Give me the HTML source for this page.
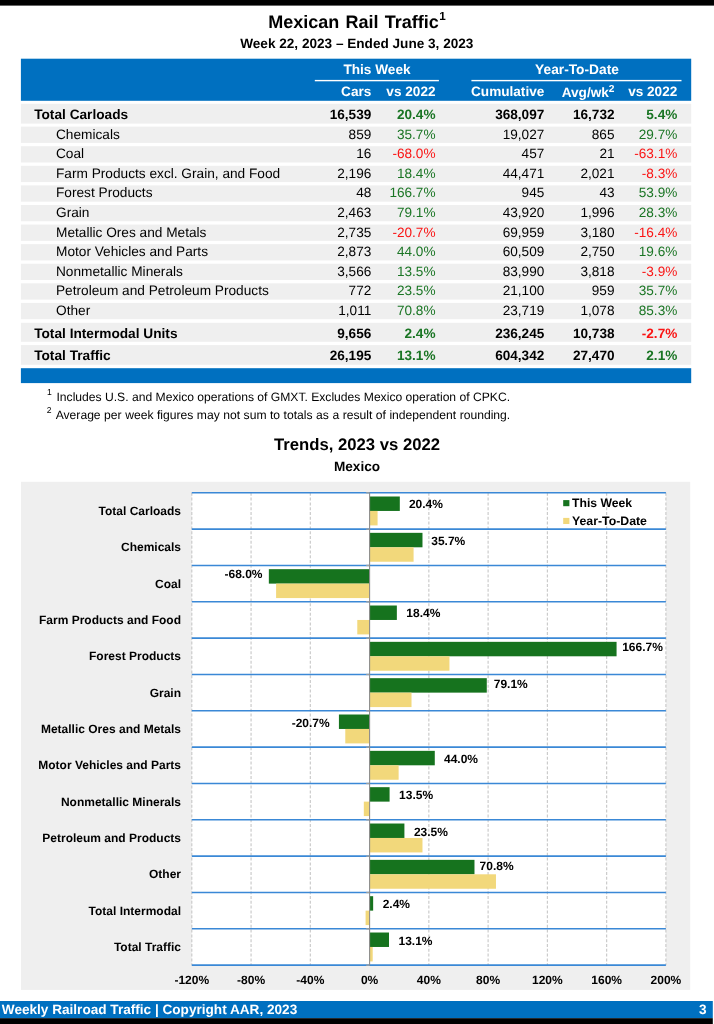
<!DOCTYPE html>
<html lang="en"><head><meta charset="utf-8"><title>Mexican Rail Traffic</title>
<style>html,body{margin:0;padding:0;background:#fff}svg{display:block}text{text-rendering:geometricPrecision;font-family:"Liberation Sans",Arial,sans-serif;fill:#000}.b{font-weight:bold}.w{fill:#fff}.g{fill:#1a7524}.r{fill:#fa1414}</style></head><body>
<svg width="714" height="1024" viewBox="0 0 714 1024">
<rect x="0" y="0" width="714" height="1024" fill="#fff"/>
<rect x="0" y="0" width="714" height="5.6" fill="#000"/>
<text class="b" x="268.2" y="28.3" font-size="18" word-spacing="1.2">Mexican Rail Traffic<tspan dy="-8.6" dx="0.5" font-size="11.7">1</tspan></text>
<text class="b" x="356.8" y="47.6" font-size="13.6" text-anchor="middle">Week 22, 2023 – Ended June 3, 2023</text>
<rect x="20.9" y="58.7" width="670.3000000000001" height="42.1" fill="#0070c0"/>
<rect x="314.8" y="79.9" width="124.1" height="1.4" fill="#fff"/>
<rect x="471.4" y="79.9" width="210.1" height="1.4" fill="#fff"/>
<text class="b w" x="377.0" y="74.1" font-size="13.65" text-anchor="middle">This Week</text>
<text class="b w" x="577.0" y="74.3" font-size="13.75" text-anchor="middle">Year-To-Date</text>
<text class="b w" x="371.3" y="96.1" font-size="13.6" text-anchor="end">Cars</text>
<text class="b w" x="435.5" y="96.1" font-size="13.6" text-anchor="end">vs 2022</text>
<text class="b w" x="544.3" y="96.1" font-size="13.6" text-anchor="end">Cumulative</text>
<text class="b w" x="677.3" y="96.1" font-size="13.6" text-anchor="end">vs 2022</text>
<text class="b w" x="614.5" y="97.3" font-size="13.6" text-anchor="end">Avg/wk<tspan dy="-5.6" font-size="10.2">2</tspan></text>
<rect x="20.9" y="103.80" width="670.3000000000001" height="19.8" fill="#efefef"/>
<text class="b" x="34.2" y="118.60" font-size="13.68">Total Carloads</text>
<text class="b" x="371.3" y="118.60" font-size="13.6" text-anchor="end">16,539</text>
<text class="b g" x="435.5" y="118.60" font-size="13.6" text-anchor="end">20.4%</text>
<text class="b" x="544.3" y="118.60" font-size="13.6" text-anchor="end">368,097</text>
<text class="b" x="614.5" y="118.60" font-size="13.6" text-anchor="end">16,732</text>
<text class="b g" x="677.3" y="118.60" font-size="13.6" text-anchor="end">5.4%</text>
<rect x="20.9" y="126.60" width="670.3000000000001" height="16.3" fill="#efefef"/>
<text class="" x="56.0" y="138.60" font-size="13.68">Chemicals</text>
<text class="" x="371.3" y="138.60" font-size="13.6" text-anchor="end">859</text>
<text class="g" x="435.5" y="138.60" font-size="13.6" text-anchor="end">35.7%</text>
<text class="" x="544.3" y="138.60" font-size="13.6" text-anchor="end">19,027</text>
<text class="" x="614.5" y="138.60" font-size="13.6" text-anchor="end">865</text>
<text class="g" x="677.3" y="138.60" font-size="13.6" text-anchor="end">29.7%</text>
<rect x="20.9" y="146.19" width="670.3000000000001" height="16.3" fill="#efefef"/>
<text class="" x="56.0" y="158.19" font-size="13.68">Coal</text>
<text class="" x="371.3" y="158.19" font-size="13.6" text-anchor="end">16</text>
<text class="r" x="435.5" y="158.19" font-size="13.6" text-anchor="end">-68.0%</text>
<text class="" x="544.3" y="158.19" font-size="13.6" text-anchor="end">457</text>
<text class="" x="614.5" y="158.19" font-size="13.6" text-anchor="end">21</text>
<text class="r" x="677.3" y="158.19" font-size="13.6" text-anchor="end">-63.1%</text>
<rect x="20.9" y="165.78" width="670.3000000000001" height="16.3" fill="#efefef"/>
<text class="" x="56.0" y="177.78" font-size="13.68">Farm Products excl. Grain, and Food</text>
<text class="" x="371.3" y="177.78" font-size="13.6" text-anchor="end">2,196</text>
<text class="g" x="435.5" y="177.78" font-size="13.6" text-anchor="end">18.4%</text>
<text class="" x="544.3" y="177.78" font-size="13.6" text-anchor="end">44,471</text>
<text class="" x="614.5" y="177.78" font-size="13.6" text-anchor="end">2,021</text>
<text class="r" x="677.3" y="177.78" font-size="13.6" text-anchor="end">-8.3%</text>
<rect x="20.9" y="185.37" width="670.3000000000001" height="16.3" fill="#efefef"/>
<text class="" x="56.0" y="197.37" font-size="13.68">Forest Products</text>
<text class="" x="371.3" y="197.37" font-size="13.6" text-anchor="end">48</text>
<text class="g" x="435.5" y="197.37" font-size="13.6" text-anchor="end">166.7%</text>
<text class="" x="544.3" y="197.37" font-size="13.6" text-anchor="end">945</text>
<text class="" x="614.5" y="197.37" font-size="13.6" text-anchor="end">43</text>
<text class="g" x="677.3" y="197.37" font-size="13.6" text-anchor="end">53.9%</text>
<rect x="20.9" y="204.96" width="670.3000000000001" height="16.3" fill="#efefef"/>
<text class="" x="56.0" y="216.96" font-size="13.68">Grain</text>
<text class="" x="371.3" y="216.96" font-size="13.6" text-anchor="end">2,463</text>
<text class="g" x="435.5" y="216.96" font-size="13.6" text-anchor="end">79.1%</text>
<text class="" x="544.3" y="216.96" font-size="13.6" text-anchor="end">43,920</text>
<text class="" x="614.5" y="216.96" font-size="13.6" text-anchor="end">1,996</text>
<text class="g" x="677.3" y="216.96" font-size="13.6" text-anchor="end">28.3%</text>
<rect x="20.9" y="224.55" width="670.3000000000001" height="16.3" fill="#efefef"/>
<text class="" x="56.0" y="236.55" font-size="13.68">Metallic Ores and Metals</text>
<text class="" x="371.3" y="236.55" font-size="13.6" text-anchor="end">2,735</text>
<text class="r" x="435.5" y="236.55" font-size="13.6" text-anchor="end">-20.7%</text>
<text class="" x="544.3" y="236.55" font-size="13.6" text-anchor="end">69,959</text>
<text class="" x="614.5" y="236.55" font-size="13.6" text-anchor="end">3,180</text>
<text class="r" x="677.3" y="236.55" font-size="13.6" text-anchor="end">-16.4%</text>
<rect x="20.9" y="244.14" width="670.3000000000001" height="16.3" fill="#efefef"/>
<text class="" x="56.0" y="256.14" font-size="13.68">Motor Vehicles and Parts</text>
<text class="" x="371.3" y="256.14" font-size="13.6" text-anchor="end">2,873</text>
<text class="g" x="435.5" y="256.14" font-size="13.6" text-anchor="end">44.0%</text>
<text class="" x="544.3" y="256.14" font-size="13.6" text-anchor="end">60,509</text>
<text class="" x="614.5" y="256.14" font-size="13.6" text-anchor="end">2,750</text>
<text class="g" x="677.3" y="256.14" font-size="13.6" text-anchor="end">19.6%</text>
<rect x="20.9" y="263.73" width="670.3000000000001" height="16.3" fill="#efefef"/>
<text class="" x="56.0" y="275.73" font-size="13.68">Nonmetallic Minerals</text>
<text class="" x="371.3" y="275.73" font-size="13.6" text-anchor="end">3,566</text>
<text class="g" x="435.5" y="275.73" font-size="13.6" text-anchor="end">13.5%</text>
<text class="" x="544.3" y="275.73" font-size="13.6" text-anchor="end">83,990</text>
<text class="" x="614.5" y="275.73" font-size="13.6" text-anchor="end">3,818</text>
<text class="r" x="677.3" y="275.73" font-size="13.6" text-anchor="end">-3.9%</text>
<rect x="20.9" y="283.32" width="670.3000000000001" height="16.3" fill="#efefef"/>
<text class="" x="56.0" y="295.32" font-size="13.68">Petroleum and Petroleum Products</text>
<text class="" x="371.3" y="295.32" font-size="13.6" text-anchor="end">772</text>
<text class="g" x="435.5" y="295.32" font-size="13.6" text-anchor="end">23.5%</text>
<text class="" x="544.3" y="295.32" font-size="13.6" text-anchor="end">21,100</text>
<text class="" x="614.5" y="295.32" font-size="13.6" text-anchor="end">959</text>
<text class="g" x="677.3" y="295.32" font-size="13.6" text-anchor="end">35.7%</text>
<rect x="20.9" y="302.91" width="670.3000000000001" height="16.3" fill="#efefef"/>
<text class="" x="56.0" y="314.91" font-size="13.68">Other</text>
<text class="" x="371.3" y="314.91" font-size="13.6" text-anchor="end">1,011</text>
<text class="g" x="435.5" y="314.91" font-size="13.6" text-anchor="end">70.8%</text>
<text class="" x="544.3" y="314.91" font-size="13.6" text-anchor="end">23,719</text>
<text class="" x="614.5" y="314.91" font-size="13.6" text-anchor="end">1,078</text>
<text class="g" x="677.3" y="314.91" font-size="13.6" text-anchor="end">85.3%</text>
<rect x="20.9" y="322.80" width="670.3000000000001" height="19.0" fill="#efefef"/>
<text class="b" x="34.2" y="337.60" font-size="13.68">Total Intermodal Units</text>
<text class="b" x="371.3" y="337.60" font-size="13.6" text-anchor="end">9,656</text>
<text class="b g" x="435.5" y="337.60" font-size="13.6" text-anchor="end">2.4%</text>
<text class="b" x="544.3" y="337.60" font-size="13.6" text-anchor="end">236,245</text>
<text class="b" x="614.5" y="337.60" font-size="13.6" text-anchor="end">10,738</text>
<text class="b r" x="677.3" y="337.60" font-size="13.6" text-anchor="end">-2.7%</text>
<rect x="20.9" y="345.10" width="670.3000000000001" height="19.7" fill="#efefef"/>
<text class="b" x="34.2" y="359.70" font-size="13.68">Total Traffic</text>
<text class="b" x="371.3" y="359.70" font-size="13.6" text-anchor="end">26,195</text>
<text class="b g" x="435.5" y="359.70" font-size="13.6" text-anchor="end">13.1%</text>
<text class="b" x="544.3" y="359.70" font-size="13.6" text-anchor="end">604,342</text>
<text class="b" x="614.5" y="359.70" font-size="13.6" text-anchor="end">27,470</text>
<text class="b g" x="677.3" y="359.70" font-size="13.6" text-anchor="end">2.1%</text>
<rect x="20.9" y="368.2" width="670.3000000000001" height="14.9" fill="#0070c0"/>
<text x="46.9" y="400.5" font-size="12.13"><tspan font-size="8.6" dy="-5.8">1</tspan><tspan dy="5.8" dx="4.8">Includes U.S. and Mexico operations of GMXT. Excludes Mexico operation of CPKC.</tspan></text>
<text x="46.7" y="418.7" font-size="12.13" word-spacing="0.13"><tspan font-size="8.6" dy="-5.4">2</tspan><tspan dy="5.4" dx="4.2">Average per week figures may not sum to totals as a result of independent rounding.</tspan></text>
<text class="b" x="357" y="449.6" font-size="16.7" text-anchor="middle">Trends, 2023 vs 2022</text>
<text class="b" x="357" y="470.6" font-size="13.6" text-anchor="middle">Mexico</text>
<rect x="21" y="481.8" width="669.2" height="508.1" fill="#efefef"/>
<rect x="191.8" y="492.8" width="474.09999999999997" height="472.35" fill="#fff"/>
<line x1="191.80" y1="492.8" x2="191.80" y2="965.15" stroke="#c9c9c9" stroke-width="1.15" stroke-dasharray="3,1.8"/>
<line x1="251.06" y1="492.8" x2="251.06" y2="965.15" stroke="#c9c9c9" stroke-width="1.15" stroke-dasharray="3,1.8"/>
<line x1="310.32" y1="492.8" x2="310.32" y2="965.15" stroke="#c9c9c9" stroke-width="1.15" stroke-dasharray="3,1.8"/>
<line x1="428.85" y1="492.8" x2="428.85" y2="965.15" stroke="#c9c9c9" stroke-width="1.15" stroke-dasharray="3,1.8"/>
<line x1="488.11" y1="492.8" x2="488.11" y2="965.15" stroke="#c9c9c9" stroke-width="1.15" stroke-dasharray="3,1.8"/>
<line x1="547.38" y1="492.8" x2="547.38" y2="965.15" stroke="#c9c9c9" stroke-width="1.15" stroke-dasharray="3,1.8"/>
<line x1="606.64" y1="492.8" x2="606.64" y2="965.15" stroke="#c9c9c9" stroke-width="1.15" stroke-dasharray="3,1.8"/>
<line x1="665.90" y1="492.8" x2="665.90" y2="965.15" stroke="#c9c9c9" stroke-width="1.15" stroke-dasharray="3,1.8"/>
<rect x="369.59" y="496.50" width="30.22" height="14.45" fill="#16731e"/>
<rect x="369.59" y="510.95" width="8.00" height="14.45" fill="#f2d87b"/>
<text class="b" x="408.91" y="508.43" font-size="12">20.4%</text>
<text class="b" x="181" y="514.97" font-size="12" text-anchor="end">Total Carloads</text>
<rect x="369.59" y="532.84" width="52.89" height="14.45" fill="#16731e"/>
<rect x="369.59" y="547.29" width="44.00" height="14.45" fill="#f2d87b"/>
<text class="b" x="431.28" y="544.66" font-size="12">35.7%</text>
<text class="b" x="181" y="551.30" font-size="12" text-anchor="end">Chemicals</text>
<rect x="268.84" y="569.17" width="100.75" height="14.45" fill="#16731e"/>
<rect x="276.10" y="583.62" width="93.49" height="14.45" fill="#f2d87b"/>
<text class="b" x="262.54" y="578.20" font-size="12" text-anchor="end">-68.0%</text>
<text class="b" x="181" y="587.64" font-size="12" text-anchor="end">Coal</text>
<rect x="369.59" y="605.51" width="27.26" height="14.45" fill="#16731e"/>
<rect x="357.29" y="619.96" width="12.30" height="14.45" fill="#f2d87b"/>
<text class="b" x="406.35" y="617.13" font-size="12">18.4%</text>
<text class="b" x="181" y="623.97" font-size="12" text-anchor="end">Farm Products and Food</text>
<rect x="369.59" y="641.84" width="246.98" height="14.45" fill="#16731e"/>
<rect x="369.59" y="656.29" width="79.86" height="14.45" fill="#f2d87b"/>
<text class="b" x="662.9" y="651.07" font-size="12" text-anchor="end">166.7%</text>
<text class="b" x="181" y="660.31" font-size="12" text-anchor="end">Forest Products</text>
<rect x="369.59" y="678.18" width="117.19" height="14.45" fill="#16731e"/>
<rect x="369.59" y="692.63" width="41.93" height="14.45" fill="#f2d87b"/>
<text class="b" x="493.78" y="688.10" font-size="12">79.1%</text>
<text class="b" x="181" y="696.64" font-size="12" text-anchor="end">Grain</text>
<rect x="338.92" y="714.51" width="30.67" height="14.45" fill="#16731e"/>
<rect x="345.29" y="728.96" width="24.30" height="14.45" fill="#f2d87b"/>
<text class="b" x="329.72" y="726.84" font-size="12" text-anchor="end">-20.7%</text>
<text class="b" x="181" y="732.98" font-size="12" text-anchor="end">Metallic Ores and Metals</text>
<rect x="369.59" y="750.85" width="65.19" height="14.45" fill="#16731e"/>
<rect x="369.59" y="765.30" width="29.04" height="14.45" fill="#f2d87b"/>
<text class="b" x="443.98" y="762.77" font-size="12">44.0%</text>
<text class="b" x="181" y="769.31" font-size="12" text-anchor="end">Motor Vehicles and Parts</text>
<rect x="369.59" y="787.18" width="20.00" height="14.45" fill="#16731e"/>
<rect x="363.81" y="801.63" width="5.78" height="14.45" fill="#f2d87b"/>
<text class="b" x="399.09" y="799.21" font-size="12">13.5%</text>
<text class="b" x="181" y="805.65" font-size="12" text-anchor="end">Nonmetallic Minerals</text>
<rect x="369.59" y="823.52" width="34.82" height="14.45" fill="#16731e"/>
<rect x="369.59" y="837.97" width="52.89" height="14.45" fill="#f2d87b"/>
<text class="b" x="413.90" y="835.54" font-size="12">23.5%</text>
<text class="b" x="181" y="841.98" font-size="12" text-anchor="end">Petroleum and Products</text>
<rect x="369.59" y="859.85" width="104.89" height="14.45" fill="#16731e"/>
<rect x="369.59" y="874.30" width="126.38" height="14.45" fill="#f2d87b"/>
<text class="b" x="479.58" y="870.28" font-size="12">70.8%</text>
<text class="b" x="181" y="878.32" font-size="12" text-anchor="end">Other</text>
<rect x="369.59" y="896.19" width="3.56" height="14.45" fill="#16731e"/>
<rect x="365.59" y="910.64" width="4.00" height="14.45" fill="#f2d87b"/>
<text class="b" x="382.64" y="908.31" font-size="12">2.4%</text>
<text class="b" x="181" y="914.65" font-size="12" text-anchor="end">Total Intermodal</text>
<rect x="369.59" y="932.52" width="19.41" height="14.45" fill="#16731e"/>
<rect x="369.59" y="946.97" width="3.11" height="14.45" fill="#f2d87b"/>
<text class="b" x="398.50" y="944.64" font-size="12">13.1%</text>
<text class="b" x="181" y="950.99" font-size="12" text-anchor="end">Total Traffic</text>
<line x1="191.8" y1="492.80" x2="665.9" y2="492.80" stroke="#3a88d6" stroke-width="1.6"/>
<line x1="366.19" y1="492.80" x2="369.59" y2="492.80" stroke="#a0a0a0" stroke-width="1.3"/>
<line x1="191.8" y1="529.13" x2="665.9" y2="529.13" stroke="#3a88d6" stroke-width="1.6"/>
<line x1="366.19" y1="529.13" x2="369.59" y2="529.13" stroke="#a0a0a0" stroke-width="1.3"/>
<line x1="191.8" y1="565.47" x2="665.9" y2="565.47" stroke="#3a88d6" stroke-width="1.6"/>
<line x1="366.19" y1="565.47" x2="369.59" y2="565.47" stroke="#a0a0a0" stroke-width="1.3"/>
<line x1="191.8" y1="601.81" x2="665.9" y2="601.81" stroke="#3a88d6" stroke-width="1.6"/>
<line x1="366.19" y1="601.81" x2="369.59" y2="601.81" stroke="#a0a0a0" stroke-width="1.3"/>
<line x1="191.8" y1="638.14" x2="665.9" y2="638.14" stroke="#3a88d6" stroke-width="1.6"/>
<line x1="366.19" y1="638.14" x2="369.59" y2="638.14" stroke="#a0a0a0" stroke-width="1.3"/>
<line x1="191.8" y1="674.48" x2="665.9" y2="674.48" stroke="#3a88d6" stroke-width="1.6"/>
<line x1="366.19" y1="674.48" x2="369.59" y2="674.48" stroke="#a0a0a0" stroke-width="1.3"/>
<line x1="191.8" y1="710.81" x2="665.9" y2="710.81" stroke="#3a88d6" stroke-width="1.6"/>
<line x1="366.19" y1="710.81" x2="369.59" y2="710.81" stroke="#a0a0a0" stroke-width="1.3"/>
<line x1="191.8" y1="747.14" x2="665.9" y2="747.14" stroke="#3a88d6" stroke-width="1.6"/>
<line x1="366.19" y1="747.14" x2="369.59" y2="747.14" stroke="#a0a0a0" stroke-width="1.3"/>
<line x1="191.8" y1="783.48" x2="665.9" y2="783.48" stroke="#3a88d6" stroke-width="1.6"/>
<line x1="366.19" y1="783.48" x2="369.59" y2="783.48" stroke="#a0a0a0" stroke-width="1.3"/>
<line x1="191.8" y1="819.82" x2="665.9" y2="819.82" stroke="#3a88d6" stroke-width="1.6"/>
<line x1="366.19" y1="819.82" x2="369.59" y2="819.82" stroke="#a0a0a0" stroke-width="1.3"/>
<line x1="191.8" y1="856.15" x2="665.9" y2="856.15" stroke="#3a88d6" stroke-width="1.6"/>
<line x1="366.19" y1="856.15" x2="369.59" y2="856.15" stroke="#a0a0a0" stroke-width="1.3"/>
<line x1="191.8" y1="892.49" x2="665.9" y2="892.49" stroke="#3a88d6" stroke-width="1.6"/>
<line x1="366.19" y1="892.49" x2="369.59" y2="892.49" stroke="#a0a0a0" stroke-width="1.3"/>
<line x1="191.8" y1="928.82" x2="665.9" y2="928.82" stroke="#3a88d6" stroke-width="1.6"/>
<line x1="366.19" y1="928.82" x2="369.59" y2="928.82" stroke="#a0a0a0" stroke-width="1.3"/>
<line x1="191.8" y1="965.15" x2="665.9" y2="965.15" stroke="#3a88d6" stroke-width="1.6"/>
<line x1="366.19" y1="965.15" x2="369.59" y2="965.15" stroke="#a0a0a0" stroke-width="1.3"/>
<line x1="369.59" y1="492.8" x2="369.59" y2="965.15" stroke="#8c8c8c" stroke-width="1.1"/>
<text class="b" x="191.80" y="983.5" font-size="12" text-anchor="middle">-120%</text>
<text class="b" x="251.06" y="983.5" font-size="12" text-anchor="middle">-80%</text>
<text class="b" x="310.32" y="983.5" font-size="12" text-anchor="middle">-40%</text>
<text class="b" x="369.59" y="983.5" font-size="12" text-anchor="middle">0%</text>
<text class="b" x="428.85" y="983.5" font-size="12" text-anchor="middle">40%</text>
<text class="b" x="488.11" y="983.5" font-size="12" text-anchor="middle">80%</text>
<text class="b" x="547.38" y="983.5" font-size="12" text-anchor="middle">120%</text>
<text class="b" x="606.64" y="983.5" font-size="12" text-anchor="middle">160%</text>
<text class="b" x="665.90" y="983.5" font-size="12" text-anchor="middle">200%</text>
<rect x="563.2" y="500.1" width="6.2" height="6.1" fill="#16731e"/>
<text class="b" x="572" y="507.3" font-size="12.2">This Week</text>
<rect x="563.2" y="517.9" width="6.2" height="6.1" fill="#f2d87b"/>
<text class="b" x="572" y="525.3" font-size="12.3">Year-To-Date</text>
<rect x="0" y="1001.0" width="712.8" height="17.3" fill="#0070c0"/>
<rect x="0" y="1018.2" width="712.8" height="5.8" fill="#000"/>
<text class="b w" x="1.8" y="1013.8" font-size="13.6">Weekly Railroad Traffic | Copyright AAR, 2023</text>
<text class="b w" x="706.5" y="1013.8" font-size="13.6" text-anchor="end">3</text>
</svg></body></html>
